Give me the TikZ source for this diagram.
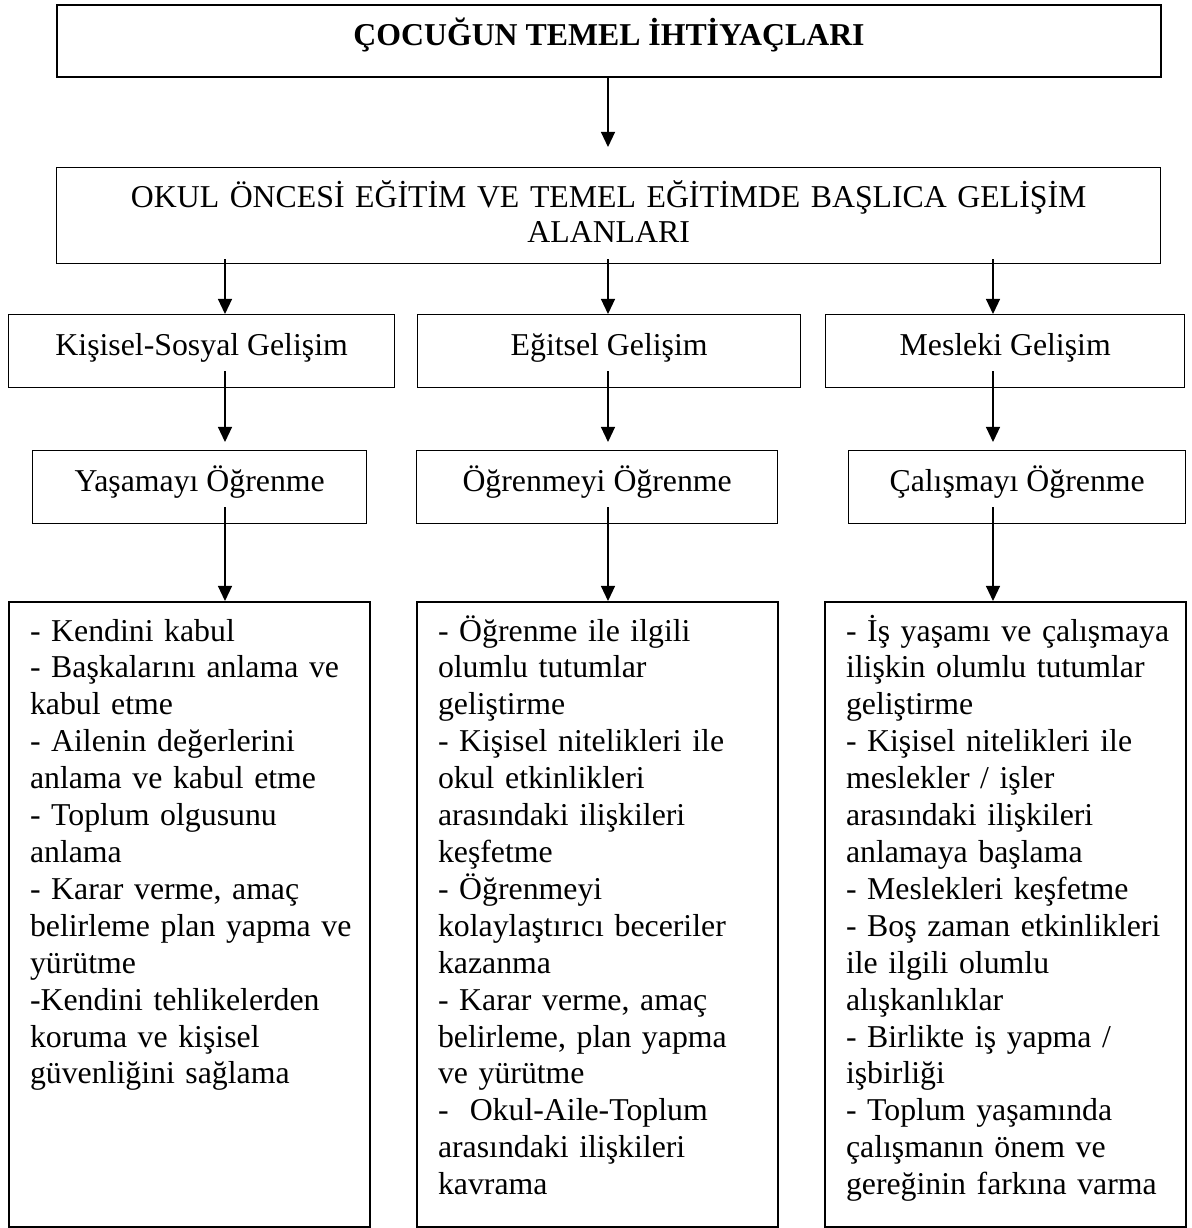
\documentclass[tikz,border=0pt]{standalone}
\usepackage{fontspec}
\setmainfont{Liberation Serif}
\usetikzlibrary{arrows.meta}

\tikzset{
  kutu/.style={draw, line width=0.5pt, anchor=north west, inner sep=0pt,
    minimum height=27.55pt, text height=15.47pt, text depth=12.08pt},
  liste/.style={draw, line width=0.75pt, anchor=north west, inner xsep=1pt, inner ysep=0pt,
    text width=134.24pt, align=left, text height=14.72pt, text depth=221.16pt,
    execute at begin node={\leftskip=6.93pt\hyphenpenalty=10000\relax}},
  ok/.style={-{Triangle[width=5.3pt, length=5.7pt]}, line width=0.5pt}
}

\begin{document}
\begin{tikzpicture}[x=0.3774pt, y=-0.3774pt, font=\fontsize{12pt}{13.93pt}\selectfont]

\path[fill=white, use as bounding box] (0,0) rectangle (1191,1228);

\node[kutu, line width=0.75pt, minimum width=416.65pt, minimum height=27.17pt, text height=15.10pt, text depth=12.08pt, font=\fontsize{12pt}{13.93pt}\selectfont\bfseries] (ihtiyac) at (56,4) {ÇOCUĞUN TEMEL İHTİYAÇLARI};

\node[kutu, text width=416.65pt, align=center, minimum height=36.23pt, text height=15.10pt, text depth=21.13pt, font=\fontsize{12pt}{13.21pt}\selectfont] (alanlar) at (56,167) {OKUL ÖNCESİ EĞİTİM VE TEMEL EĞİTİMDE BAŞLICA GELİŞİM\\ALANLARI};

% gelisim alanlari
\node[kutu, minimum width=145.68pt] (kisisel) at (8,314) {Kişisel-Sosyal Gelişim};
\node[kutu, minimum width=144.54pt] (egitsel) at (417,314) {Eğitsel Gelişim};
\node[kutu, minimum width=135.49pt] (mesleki) at (825,314) {Mesleki Gelişim};

\node[kutu, minimum width=126.05pt] (yasama) at (32,450) {Yaşamayı Öğrenme};
\node[kutu, minimum width=136.24pt] (ogrenme) at (416,450) {Öğrenmeyi Öğrenme};
\node[kutu, minimum width=127.18pt] (calisma) at (848,450) {Çalışmayı Öğrenme};

% hedef listeleri
\node[liste] (liste1) at (8,601) {- Kendini kabul\\
- Başkalarını anlama ve\\
kabul etme\\
- Ailenin değerlerini\\
anlama ve kabul etme\\
- Toplum olgusunu\\
anlama\\
- Karar verme, amaç\\
belirleme plan yapma ve\\
yürütme\\
-Kendini tehlikelerden\\
koruma ve kişisel\\
güvenliğini sağlama};

\node[liste] (liste2) at (416,601) {- Öğrenme ile ilgili\\
olumlu tutumlar\\
geliştirme\\
- Kişisel nitelikleri ile\\
okul etkinlikleri\\
arasındaki ilişkileri\\
keşfetme\\
- Öğrenmeyi\\
kolaylaştırıcı beceriler\\
kazanma\\
- Karar verme, amaç\\
belirleme, plan yapma\\
ve yürütme\\
- \ Okul-Aile-Toplum\\
arasındaki ilişkileri\\
kavrama};

\node[liste] (liste3) at (824,601) {- İş yaşamı ve çalışmaya\\
ilişkin olumlu tutumlar\\
geliştirme\\
- Kişisel nitelikleri ile\\
meslekler / işler\\
arasındaki ilişkileri\\
anlamaya başlama\\
- Meslekleri keşfetme\\
- Boş zaman etkinlikleri\\
ile ilgili olumlu\\
alışkanlıklar\\
- Birlikte iş yapma /\\
işbirliği\\
- Toplum yaşamında\\
çalışmanın önem ve\\
gereğinin farkına varma};

% ok hatlari
\coordinate (k1) at (225,0);
\coordinate (k2) at (608,0);
\coordinate (k3) at (993,0);

\draw[ok, shorten >=7.55pt] (ihtiyac.south -| k2) -- (alanlar.north -| k2);

\draw[ok, shorten <=-1.89pt] (alanlar.south -| k1) -- (kisisel.north -| k1);
\draw[ok, shorten <=-1.89pt] (alanlar.south -| k2) -- (egitsel.north -| k2);
\draw[ok, shorten <=-1.89pt] (alanlar.south -| k3) -- (mesleki.north -| k3);

\draw[ok, shorten <=-6.42pt, shorten >=3.02pt] (kisisel.south -| k1) -- (yasama.north -| k1);
\draw[ok, shorten <=-6.42pt, shorten >=3.02pt] (egitsel.south -| k2) -- (ogrenme.north -| k2);
\draw[ok, shorten <=-6.42pt, shorten >=3.02pt] (mesleki.south -| k3) -- (calisma.north -| k3);

\draw[ok, shorten <=-6.42pt] (yasama.south -| k1) -- (liste1.north -| k1);
\draw[ok, shorten <=-6.42pt] (ogrenme.south -| k2) -- (liste2.north -| k2);
\draw[ok, shorten <=-6.42pt] (calisma.south -| k3) -- (liste3.north -| k3);
\end{tikzpicture}
\end{document}
